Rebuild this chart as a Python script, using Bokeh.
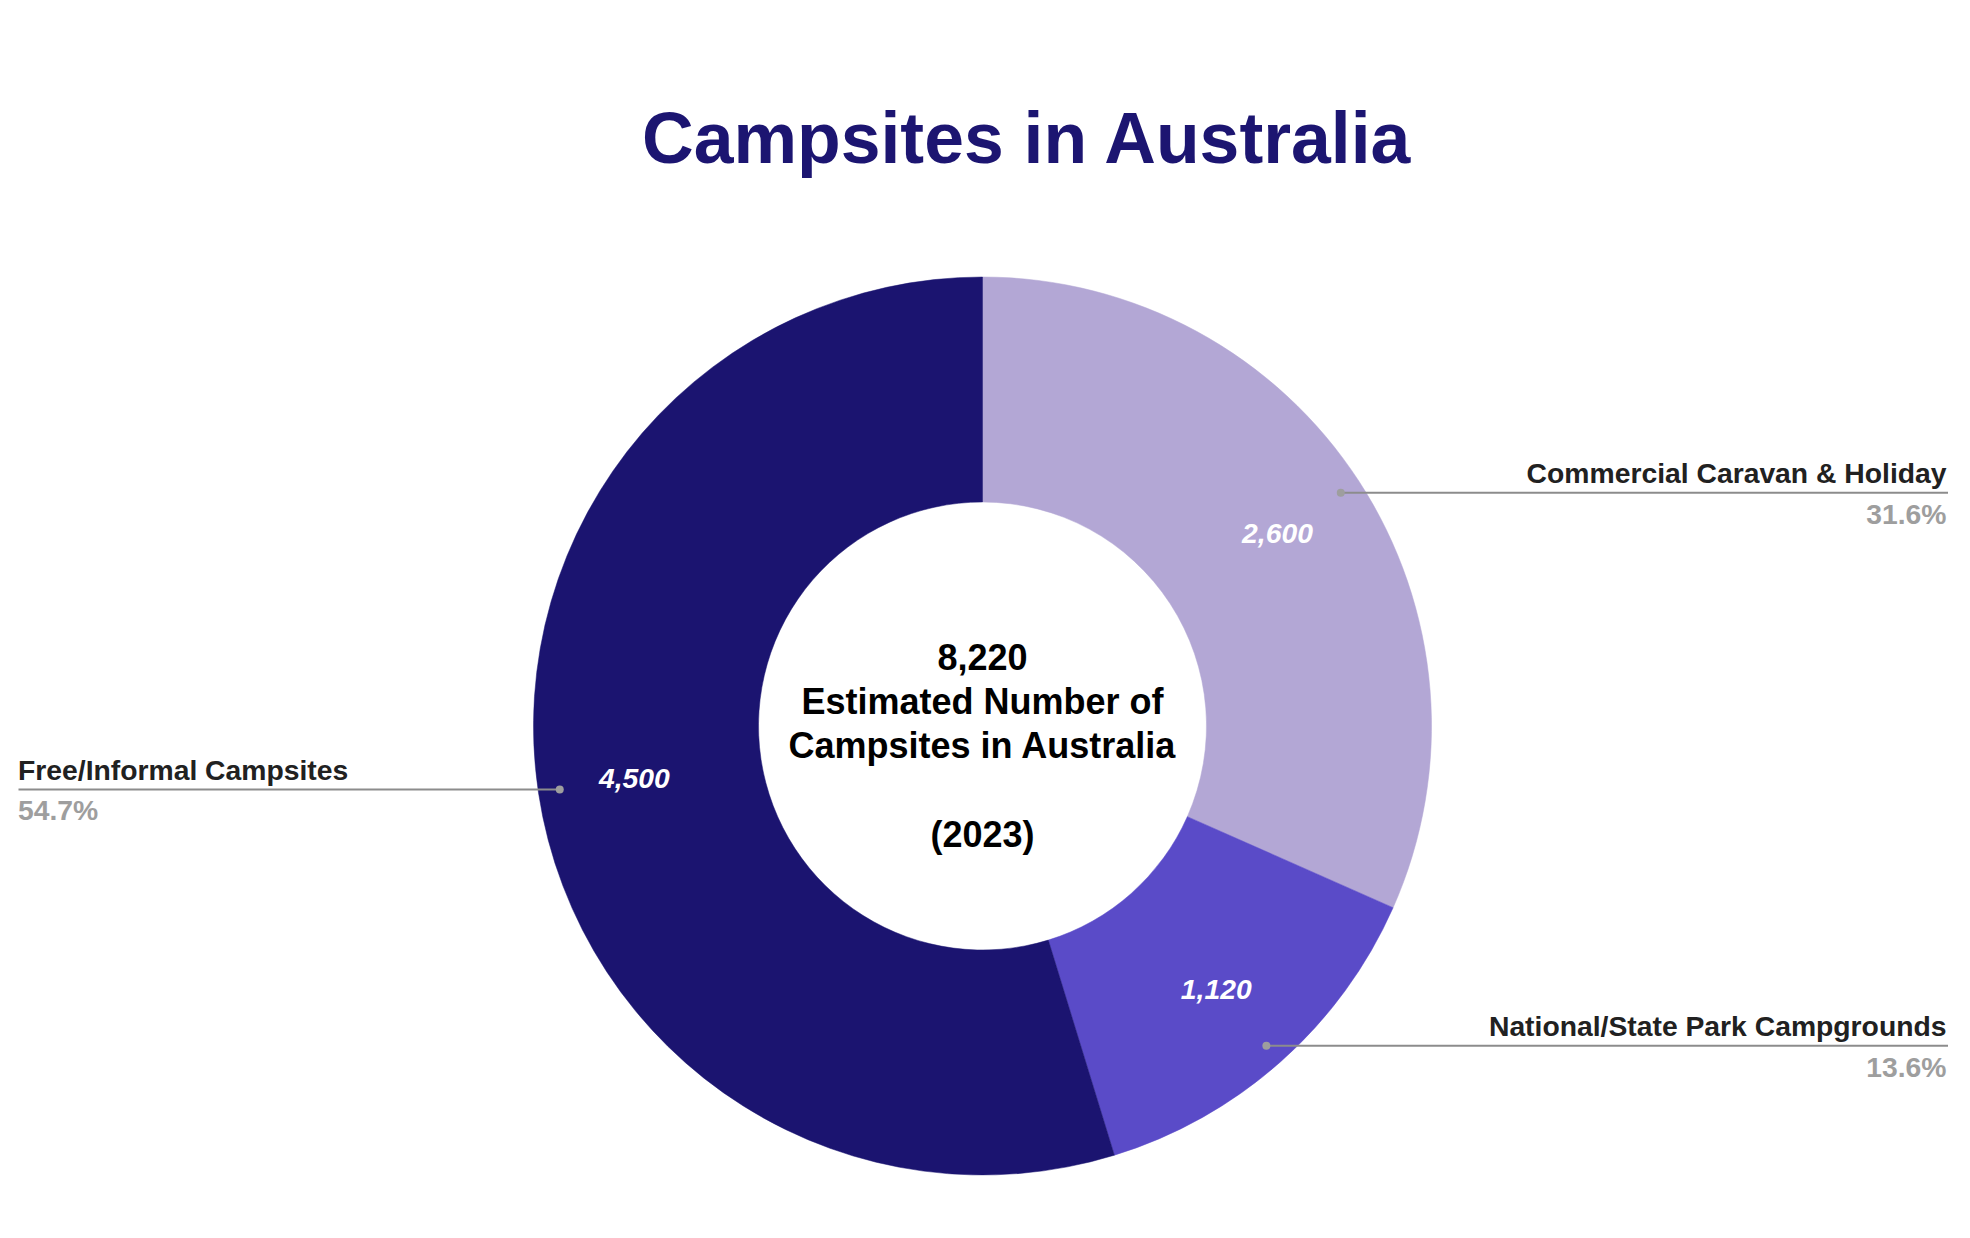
import math
from bokeh.plotting import figure
from bokeh.models import Range1d, ColumnDataSource
from bokeh.core.properties import value
from bokeh.embed import file_html
from bokeh.resources import INLINE

# ---- data ----
categories = ["Commercial Caravan & Holiday", "National/State Park Campgrounds", "Free/Informal Campsites"]
values = [2600, 1120, 4500]
colors = ["#b3a7d5", "#5a4bc8", "#1b1470"]
label_sides = ["right", "right", "left"]
title_text = "Campsites in Australia"
center_lines_after_total = ["Estimated Number of", "Campsites in Australia", "", "(2023)"]

# ---- layout (page pixels) ----
PAGE_H = 1238
ORIGIN = 0                      # page position of the figure's top-left corner
W, H = 1954, 1222
CX, CY = 982.0, 725.5           # donut centre (page coords)
R_OUT, R_IN = 449, 224
R_VAL, R_DOT = 352, 427.5
LINE_RIGHT, TEXT_RIGHT = 1947.5, 1946
LINE_LEFT, TEXT_LEFT = 18, 17.5
LABEL_SIZE = 28.3
FONT = "Liberation Sans"


def py(y):
    return PAGE_H - y


p = figure(width=W, height=H, output_backend="svg", toolbar_location=None,
           x_range=Range1d(ORIGIN, ORIGIN + W),
           y_range=Range1d(PAGE_H - ORIGIN - H, PAGE_H - ORIGIN),
           min_border=0, outline_line_color=None, background_fill_color="white",
           border_fill_color="white")
p.axis.visible = False
p.grid.visible = False

total = sum(values)
fracs = [v / total for v in values]
starts, ends, mids = [], [], []
acc = 0.0
for f in fracs:
    a0 = math.pi / 2 - acc * 2 * math.pi
    a1 = math.pi / 2 - (acc + f) * 2 * math.pi
    starts.append(a0)
    ends.append(a1)
    mids.append((a0 + a1) / 2)
    acc += f

src = ColumnDataSource(dict(start=starts, end=ends, color=colors))
p.annular_wedge(x=CX, y=py(CY), inner_radius=R_IN, outer_radius=R_OUT,
                start_angle="start", end_angle="end", direction="clock",
                fill_color="color", line_color="color", line_width=0.5, source=src)

# value labels inside ring
vx = [CX + R_VAL * math.cos(m) for m in mids]
vy = [py(CY) + R_VAL * math.sin(m) for m in mids]
p.text(x=vx, y=vy, text=[f"{v:,}" for v in values], text_color="white",
       text_font=value(FONT), text_font_style="bold italic", text_font_size=f"{LABEL_SIZE}px",
       text_align="center", text_baseline="middle")

# leader lines, dots and outside labels
for cat, v, f, m, side in zip(categories, values, fracs, mids, label_sides):
    dx = CX + R_DOT * math.cos(m)
    dy = py(CY) + R_DOT * math.sin(m)
    if side == "right":
        lx, tx, align = LINE_RIGHT, TEXT_RIGHT, "right"
    else:
        lx, tx, align = LINE_LEFT, TEXT_LEFT, "left"
    p.line(x=[dx, lx], y=[dy, dy], line_color="#8c8c8c", line_width=2)
    p.scatter(x=[dx], y=[dy], size=8, marker="circle", fill_color="#9e9e9e", line_color=None)
    p.text(x=[tx], y=[dy + 19.4], text=[cat], text_color="#212121",
           text_font=value(FONT), text_font_style="bold", text_font_size=f"{LABEL_SIZE}px",
           text_align=align, text_baseline="middle")
    p.text(x=[tx], y=[dy - 20.9], text=[f"{f * 100:.1f}%"], text_color="#9e9e9e",
           text_font=value(FONT), text_font_style="bold", text_font_size=f"{LABEL_SIZE}px",
           text_align=align, text_baseline="middle")

# centre text
center_lines = [f"{total:,}"] + center_lines_after_total
cy_lines = [py(CY - 68.7 + i * 44.2) for i in range(len(center_lines))]
p.text(x=[CX] * len(center_lines), y=cy_lines, text=center_lines, text_color="black",
       text_font=value(FONT), text_font_style="bold", text_font_size="36px",
       text_align="center", text_baseline="middle")

# title
p.text(x=[1027], y=[py(137.8)], text=[title_text], text_color="#1c1571",
       text_font=value(FONT), text_font_style="bold", text_font_size="71.5px",
       text_align="center", text_baseline="middle")

open("out.html", "w").write(file_html(p, INLINE))
